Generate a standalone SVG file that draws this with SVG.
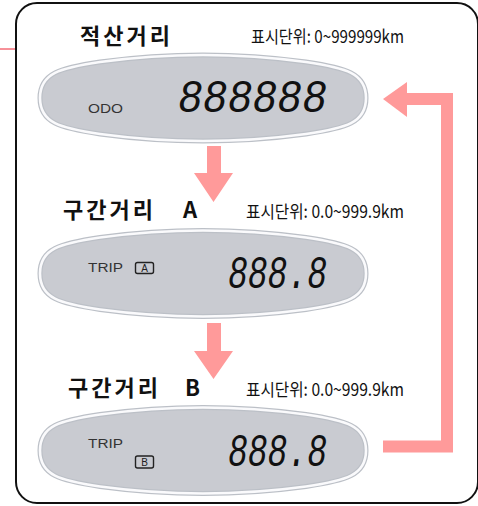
<svg xmlns="http://www.w3.org/2000/svg" width="478" height="506" viewBox="0 0 478 506">
<style>
.title{font-family:"Noto Sans CJK KR","Liberation Sans",sans-serif;font-weight:bold;font-size:22px;fill:#111}
.unit{font-family:"Noto Sans CJK KR","Liberation Sans",sans-serif;font-size:17.5px;fill:#111}
.lbl{font-family:"Liberation Sans",sans-serif;font-size:12.5px;fill:#333}
.seg{font-family:"Liberation Mono","DejaVu Sans Mono",monospace;font-style:italic;font-size:46px;fill:#111}
.ovo{fill:#c9cbd1;stroke:#bcc0c7;stroke-width:5}
.ovi{fill:none;stroke:#fafafc;stroke-width:2.6}
.box{fill:none;stroke:#222;stroke-width:1.4}
.boxt{font-family:"Liberation Sans",sans-serif;font-size:10px;fill:#222}
.pink{fill:#ff9a9a}
.pinkl{fill:none;stroke:#ff9a9a;stroke-width:12}
</style>
<defs>
<path id="oval" d="M-163,0 C-163,-25 -143,-30 -103,-36 Q0,-50 103,-36 C143,-30 163,-25 163,0 C163,25 143,30 103,36 Q0,50 -103,36 C-143,30 -163,25 -163,0 Z"/>
</defs>
<rect x="0" y="0" width="478" height="506" fill="#fff"/>
<line x1="0" y1="49" x2="15" y2="49" stroke="#e23" stroke-width="1"/>
<rect x="16" y="3" width="462" height="500" rx="21" fill="none" stroke="#111" stroke-width="2"/>

<g id="node-odo">
<text class="title" x="80" y="44" letter-spacing="3">적산거리</text>
<text class="unit" x="251" y="43" textLength="153" lengthAdjust="spacingAndGlyphs">표시단위: 0~999999km</text>
<g transform="translate(203,98)"><use href="#oval" class="ovo"/><use href="#oval" class="ovi"/></g>
<text class="lbl" x="88" y="112.5" font-size="11" textLength="35" lengthAdjust="spacingAndGlyphs">ODO</text>
<text class="seg" x="178" y="112" textLength="149" lengthAdjust="spacingAndGlyphs">888888</text>
</g>

<g id="node-tripA">
<text class="title" x="63" y="218" letter-spacing="3">구간거리</text>
<text class="title" x="183" y="218" font-family="Liberation Sans">A</text>
<text class="unit" x="246" y="218" textLength="158" lengthAdjust="spacingAndGlyphs">표시단위: 0.0~999.9km</text>
<g transform="translate(203,273.5)"><use href="#oval" class="ovo"/><use href="#oval" class="ovi"/></g>
<text class="lbl" x="88" y="272" textLength="35" lengthAdjust="spacingAndGlyphs">TRIP</text>
<rect class="box" x="135.5" y="262.5" width="18" height="11" rx="2"/>
<text class="boxt" x="144.5" y="272" text-anchor="middle">A</text>
<text class="seg" x="228" y="288" textLength="99" lengthAdjust="spacingAndGlyphs">888.8</text>
</g>

<g id="node-tripB">
<text class="title" x="68" y="396" letter-spacing="3">구간거리</text>
<text class="title" x="185" y="396" font-family="Liberation Sans">B</text>
<text class="unit" x="246" y="396" textLength="158" lengthAdjust="spacingAndGlyphs">표시단위: 0.0~999.9km</text>
<g transform="translate(203,450.5)"><use href="#oval" class="ovo"/><use href="#oval" class="ovi"/></g>
<text class="lbl" x="88" y="448" textLength="35" lengthAdjust="spacingAndGlyphs">TRIP</text>
<rect class="box" x="135.5" y="456" width="18" height="12" rx="2"/>
<text class="boxt" x="144.5" y="466" text-anchor="middle">B</text>
<text class="seg" x="228" y="466" textLength="99" lengthAdjust="spacingAndGlyphs">888.8</text>
</g>

<g id="connectors">
<polygon class="pink" points="207,146 221,146 221,173 233,173 213.5,202 194,173 207,173"/>
<polygon class="pink" points="207,323 221,323 221,351 233,351 213.5,379 194,351 207,351"/>
<polyline class="pinkl" points="383,446.5 447,446.5 447,99 405,99"/>
<polygon class="pink" points="407,82 407,117 383,99"/>
</g>
</svg>
